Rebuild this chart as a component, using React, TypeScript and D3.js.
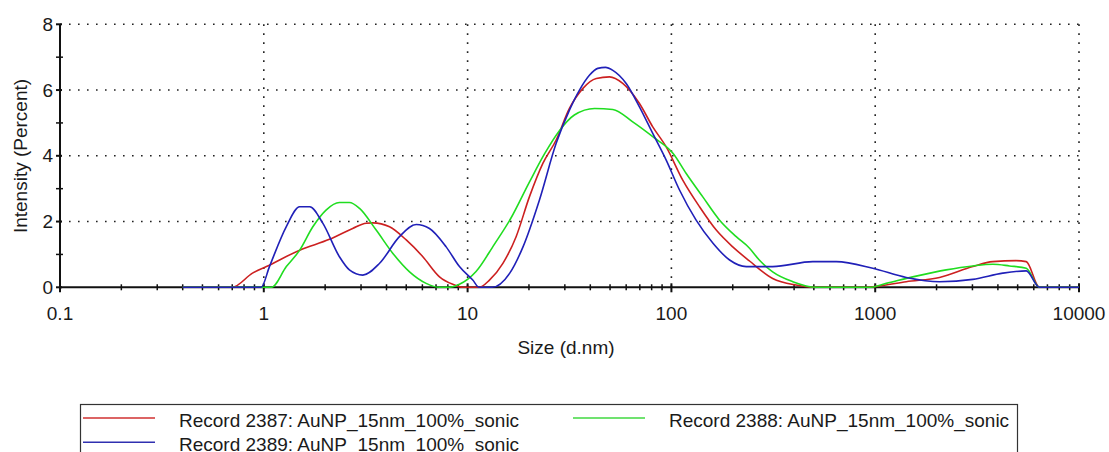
import React from "react";
import * as d3 from "d3";

// Size (d.nm) and Intensity (%)
const redSizes = [0.4, 0.7, 0.88, 1.03, 1.5, 2.1, 2.73, 3.18, 3.43, 4.14, 5.0, 6.03, 7.28, 8.46, 9.47, 11.4, 12.8, 14.9, 17.3, 20.1, 23.4, 27.2, 31.6, 36.8, 42.8, 49.7, 57.7, 69.7, 81, 94.3, 113.7, 137.4, 166, 200, 241.7, 314, 409, 513, 903, 1050, 1420, 2068, 3013, 3776, 4920, 5510, 6400, 10000];
const redValues = [0, 0, 0.43, 0.63, 1.13, 1.46, 1.79, 1.95, 1.96, 1.84, 1.44, 0.93, 0.32, 0.09, 0, 0, 0.22, 0.73, 1.54, 2.75, 3.77, 4.48, 5.44, 6.05, 6.35, 6.4, 6.2, 5.59, 4.88, 4.27, 3.26, 2.45, 1.74, 1.23, 0.8, 0.27, 0.07, 0, 0, 0.04, 0.17, 0.3, 0.63, 0.78, 0.81, 0.78, 0, 0];

const greenSizes = [0.4, 1.09, 1.29, 1.5, 1.74, 2.02, 2.35, 2.63, 2.95, 3.56, 4.3, 5.19, 6.26, 7.28, 8.15, 9.12, 11.0, 13.5, 16.3, 20.1, 23.8, 28.1, 33.4, 42, 51.6, 64.6, 81, 102, 118, 142.6, 172, 208, 241.7, 270, 314, 394, 513, 939, 1133, 1589, 2230, 3013, 3776, 4560, 5510, 6400, 10000];
const greenValues = [0, 0, 0.63, 1.13, 1.84, 2.35, 2.58, 2.58, 2.4, 1.74, 1.03, 0.47, 0.12, 0, 0, 0.09, 0.48, 1.3, 2.1, 3.2, 4.05, 4.75, 5.24, 5.44, 5.41, 5.03, 4.58, 4.07, 3.47, 2.75, 2.05, 1.54, 1.19, 0.83, 0.47, 0.17, 0, 0, 0.12, 0.34, 0.53, 0.65, 0.7, 0.65, 0.58, 0, 0];

const blueSizes = [0.4, 0.97, 1.066, 1.288, 1.5, 1.68, 1.947, 2.35, 2.63, 3.06, 3.7, 4.63, 5.6, 6.5, 7.85, 9.12, 10.6, 11.4, 13.2, 16.1, 18.7, 22.5, 27.2, 31.6, 35.4, 39.6, 43.5, 47.5, 51.6, 60, 69.7, 81, 94.3, 109.6, 132, 160, 193, 233, 314, 494, 644, 973, 1420, 2068, 3013, 4228, 5510, 6400, 10000];
const blueValues = [0, 0, 0.63, 1.84, 2.45, 2.45, 1.95, 0.93, 0.53, 0.37, 0.73, 1.54, 1.91, 1.79, 1.23, 0.63, 0.22, 0, 0, 0.43, 1.23, 2.65, 4.38, 5.39, 6.0, 6.45, 6.66, 6.69, 6.6, 6.2, 5.49, 4.68, 3.87, 2.96, 2.05, 1.34, 0.83, 0.63, 0.63, 0.78, 0.78, 0.58, 0.3, 0.17, 0.24, 0.43, 0.5, 0, 0];

const xTickLabels = ["0.1", "1", "10", "100", "1000", "10000"];
const yTickLabels = ["0", "2", "4", "6", "8"];
const legendNames = [
  "Record 2387: AuNP_15nm_100%_sonic",
  "Record 2388: AuNP_15nm_100%_sonic",
  "Record 2389: AuNP_15nm_100%_sonic",
];

const W = 1109;
const H = 452;
const FONT = "'Liberation Sans', Arial, sans-serif";

export default function App() {
  const x = d3.scaleLog().domain([0.1, 10000]).range([60, 1079]);
  const y = d3.scaleLinear().domain([0, 8]).range([287.3, 24.3]);

  const line = d3
    .line<[number, number]>()
    .x((d) => x(d[0]))
    .y((d) => y(d[1]))
    .curve(d3.curveMonotoneX);

  const series = [
    { sizes: redSizes, values: redValues, color: "#cc2020" },
    { sizes: greenSizes, values: greenValues, color: "#20dd20" },
    { sizes: blueSizes, values: blueValues, color: "#2020b8" },
  ];

  const allXTicks = x.ticks();
  const isDecade = (t: number) => Math.abs(Math.log10(t) - Math.round(Math.log10(t))) < 1e-6;
  const minorX = allXTicks.filter((t) => !isDecade(t));
  const majorX = xTickLabels.map(Number);
  const yMinor = d3.range(1, 8, 2);
  const yMajor = yTickLabels.map(Number);

  const y0 = y(0);
  const x0 = x(0.1);

  const legend = [
    { name: legendNames[0], color: "#d03030", lx: 83, tx: 179, ly: 418, ty: 426.5 },
    { name: legendNames[1], color: "#40d840", lx: 573, tx: 669, ly: 418, ty: 426.5 },
    { name: legendNames[2], color: "#3030b0", lx: 83, tx: 179, ly: 442.3, ty: 450.5 },
  ];

  return (
    <svg
      width={W}
      height={H}
      style={{ position: "absolute", left: 0, top: 0, background: "#fff" }}
      fontFamily={FONT}
    >
      {/* grid */}
      {yMajor
        .filter((v) => v > 0)
        .map((v) => (
          <line
            key={"gy" + v}
            x1={x0}
            x2={x(10000)}
            y1={y(v)}
            y2={y(v)}
            stroke="#222"
            strokeWidth={1.6}
            strokeDasharray="1.6,7.4"
          />
        ))}
      {majorX
        .filter((v) => v > 0.1)
        .map((v) => (
          <line
            key={"gx" + v}
            x1={x(v)}
            x2={x(v)}
            y1={y(8)}
            y2={y0}
            stroke="#222"
            strokeWidth={1.6}
            strokeDasharray="1.6,7.4"
          />
        ))}

      {/* axes */}
      <line x1={x0} x2={x(10000)} y1={y0} y2={y0} stroke="#111" strokeWidth={2} />
      <line x1={x0} x2={x0} y1={y(8)} y2={y0} stroke="#111" strokeWidth={2} />
      {minorX.map((t) => (
        <line key={"mx" + t} x1={x(t)} x2={x(t)} y1={y0 - 3} y2={y0 + 3} stroke="#111" strokeWidth={1.5} />
      ))}
      {majorX.map((t) => (
        <line key={"Mx" + t} x1={x(t)} x2={x(t)} y1={y0 - 4} y2={y0 + 5} stroke="#111" strokeWidth={2} />
      ))}
      {yMinor.map((v) => (
        <line key={"my" + v} x1={x0 - 4} x2={x0 + 3} y1={y(v)} y2={y(v)} stroke="#111" strokeWidth={1.5} />
      ))}
      {yMajor.map((v) => (
        <line key={"My" + v} x1={x0 - 4} x2={x0 + 2} y1={y(v)} y2={y(v)} stroke="#111" strokeWidth={2} />
      ))}

      {/* tick labels */}
      {xTickLabels.map((l) => (
        <text key={"xl" + l} x={x(Number(l))} y={320} textAnchor="middle" fontSize={19} fill="#1a1a1a">
          {l}
        </text>
      ))}
      {yTickLabels.map((l) => (
        <text
          key={"yl" + l}
          x={53}
          y={y(Number(l))}
          dy="0.35em"
          textAnchor="end"
          fontSize={19}
          fill="#1a1a1a"
        >
          {l}
        </text>
      ))}

      {/* axis titles */}
      <text x={566} y={354} textAnchor="middle" fontSize={19} fill="#1a1a1a">
        Size (d.nm)
      </text>
      <text
        transform={`translate(27,${156}) rotate(-90)`}
        textAnchor="middle"
        fontSize={19}
        fill="#1a1a1a"
      >
        Intensity (Percent)
      </text>

      {/* curves */}
      {series.map((s, i) => (
        <path
          key={"s" + i}
          d={line(s.sizes.map((sz, j) => [sz, s.values[j]] as [number, number])) || ""}
          fill="none"
          stroke={s.color}
          strokeWidth={1.6}
        />
      ))}

      {/* legend */}
      <rect x={80.5} y={404.5} width={937} height={60} fill="none" stroke="#333" strokeWidth={1.2} />
      {legend.map((e) => (
        <g key={e.name + e.ly}>
          <line x1={e.lx} x2={e.lx + 72} y1={e.ly} y2={e.ly} stroke={e.color} strokeWidth={1.6} />
          <text x={e.tx} y={e.ty} fontSize={19} fill="#1a1a1a">
            {e.name}
          </text>
        </g>
      ))}
    </svg>
  );
}
